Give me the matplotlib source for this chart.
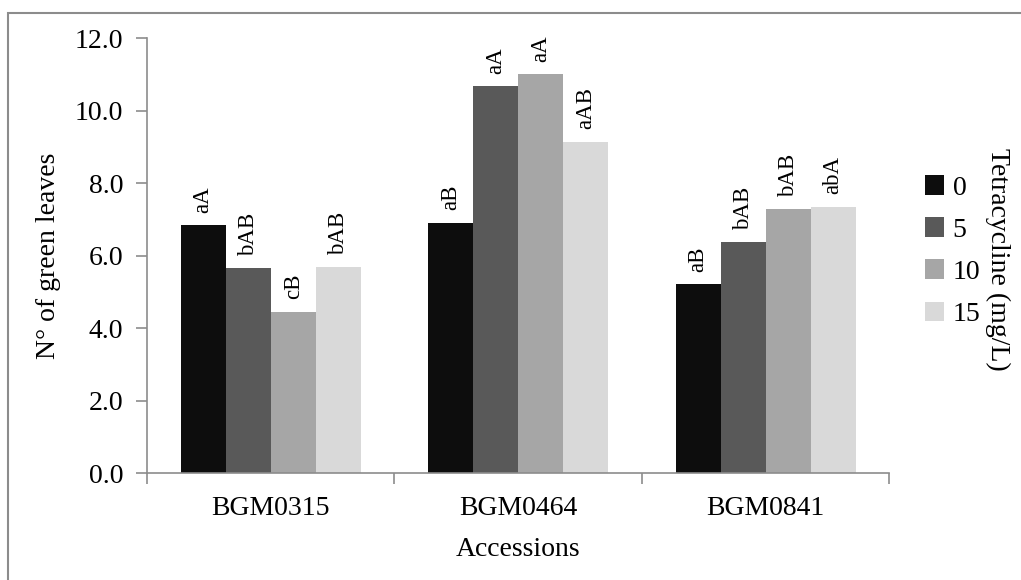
import numpy as np
import matplotlib.pyplot as plt
from matplotlib.patches import Rectangle

plt.rcParams['font.family'] = ['Liberation Serif', 'DejaVu Serif']

accessions = ['BGM0315', 'BGM0464', 'BGM0841']
doses = ['0', '5', '10', '15']
leaves = {
    '0': [6.84, 6.91, 5.21],
    '5': [5.66, 10.68, 6.37],
    '10': [4.45, 11.01, 7.28],
    '15': [5.68, 9.15, 7.35],
}
letters = {
    '0': ['aA', 'aB', 'aB'],
    '5': ['bAB', 'aA', 'bAB'],
    '10': ['cB', 'aA', 'bAB'],
    '15': ['bAB', 'aAB', 'abA'],
}
colors = ['#0d0d0d', '#595959', '#a6a6a6', '#d9d9d9']

fig = plt.figure(figsize=(10.21, 5.8), dpi=100)
ax = fig.add_axes([0.144, 0.184, 0.727, 0.75])

# outer frame like the exported chart area
fig.patches.append(Rectangle((8 / 1021, -0.1), 1.2, 1 - 13 / 580 + 0.1,
                             transform=fig.transFigure, fill=False,
                             edgecolor='#8c8c8c', linewidth=1.5))

x = np.arange(len(accessions))
w = 0.182
for i, d in enumerate(doses):
    pos = x + (i - 1.5) * w
    ax.bar(pos, leaves[d], w, color=colors[i], label=d, linewidth=0)
    for px, h, t in zip(pos, leaves[d], letters[d]):
        ax.annotate(t, (px, h), xytext=(0, 9), textcoords='offset points',
                    rotation=90, ha='center', va='bottom', fontsize=16.5)

ax.set_xlim(-0.5, 2.5)
ax.set_ylim(0, 12)
ax.set_yticks(np.arange(0, 12.1, 2))
ax.set_yticklabels(['%.1f' % v for v in np.arange(0, 12.1, 2)], fontsize=20)
ax.set_xticks(x)
ax.set_xticklabels(accessions, fontsize=20)
ax.set_xticks([-0.5, 0.5, 1.5, 2.5], minor=True)
ax.tick_params(axis='x', which='major', length=0, pad=16)
ax.tick_params(axis='x', which='minor', length=8, color='#8c8c8c', width=1.2)
ax.tick_params(axis='y', length=8, color='#8c8c8c', width=1.2, pad=9)
for s in ['top', 'right']:
    ax.spines[s].set_visible(False)
for s in ['left', 'bottom']:
    ax.spines[s].set_color('#8c8c8c')
    ax.spines[s].set_linewidth(1.2)

ax.set_ylabel('N° of green leaves', fontsize=20, labelpad=10)
ax.set_xlabel('Accessions', fontsize=20, labelpad=12)

leg = ax.legend(loc='center left', bbox_to_anchor=(0.895, 0.567),
                bbox_transform=fig.transFigure, frameon=False, fontsize=20,
                handlelength=0.7, handleheight=0.7, handletextpad=0.3,
                labelspacing=0.6, borderaxespad=0)
fig.text(0.977, 0.552, 'Tetracycline (mg/L)', rotation=-90, fontsize=20,
         ha='center', va='center')

fig.savefig('out.png', dpi=100)
